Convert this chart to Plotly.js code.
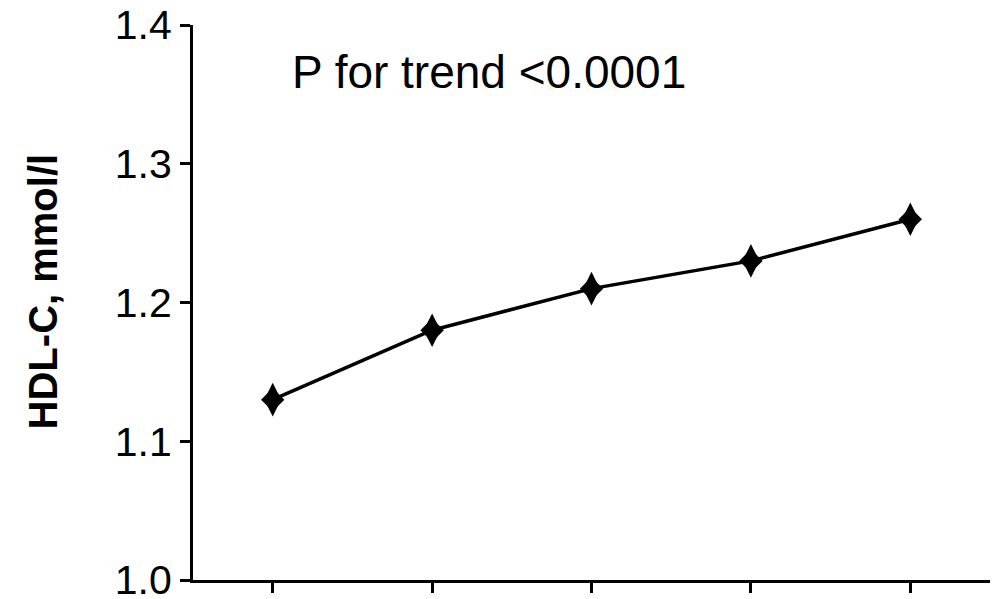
<!DOCTYPE html>
<html>
<head>
<meta charset="utf-8">
<script src="https://cdn.plot.ly/plotly-3.0.1.min.js"></script>
<style>
  html, body { margin: 0; padding: 0; background: #ffffff; }
  #chart { width: 998px; height: 599px; }
</style>
</head>
<body>
<div id="chart"></div>
<script>
// HDL cholesterol across five ordered groups
const groups = ["Q1", "Q2", "Q3", "Q4", "Q5"];
const hdlValues = [1.13, 1.18, 1.21, 1.23, 1.26];
const yTickValues = [1.0, 1.1, 1.2, 1.3, 1.4];
const yTickLabels = ["1.0", "1.1", "1.2", "1.3", "1.4"];
const trendNote = "P for trend <0.0001";
const yTitle = "HDL-C, mmol/l";

const lineTrace = {
  x: groups,
  y: hdlValues,
  type: "scatter",
  mode: "lines+markers",
  line: { color: "#000000", width: 3.5 },
  marker: { symbol: "diamond-tall", size: 24, color: "#000000" },
  hoverinfo: "skip",
  showlegend: false
};

// a second, squat diamond gives the markers their rounded shoulders
const markerBody = {
  x: groups,
  y: hdlValues,
  type: "scatter",
  mode: "markers",
  marker: { symbol: "diamond", size: 18, color: "#000000" },
  hoverinfo: "skip",
  showlegend: false
};

const layout = {
  width: 998,
  height: 599,
  margin: { l: 193, r: 8, t: 25, b: 19 },
  paper_bgcolor: "#ffffff",
  plot_bgcolor: "#ffffff",
  font: { family: "Arial, 'Liberation Sans', sans-serif", color: "#000000" },
  showlegend: false,
  xaxis: {
    type: "category",
    range: [-0.5, 4.5],
    showgrid: false,
    zeroline: false,
    showline: true,
    linecolor: "#000000",
    linewidth: 3,
    ticks: "outside",
    ticklen: 10,
    tickwidth: 3,
    tickcolor: "#000000",
    showticklabels: false,
    fixedrange: true
  },
  yaxis: {
    range: [1.0, 1.4],
    tickvals: yTickValues,
    ticktext: yTickLabels,
    ticklabeloverflow: "allow",
    showgrid: false,
    zeroline: false,
    showline: true,
    linecolor: "#000000",
    linewidth: 3,
    ticks: "outside",
    ticklen: 10,
    tickwidth: 3,
    tickcolor: "#000000",
    tickfont: { size: 41, color: "#000000" },
    fixedrange: true
  },
  annotations: [
    {
      text: trendNote,
      xref: "paper",
      yref: "paper",
      x: 0.122,
      y: 0.915,
      xanchor: "left",
      yanchor: "middle",
      showarrow: false,
      font: { size: 46, color: "#000000" }
    },
    {
      // vertical axis caption, set a little above the plot's midline
      text: "<b>" + yTitle + "</b>",
      xref: "paper",
      yref: "paper",
      x: 0,
      xshift: -150,
      y: 0.52,
      xanchor: "center",
      yanchor: "middle",
      textangle: -90,
      showarrow: false,
      font: { size: 40, color: "#000000" }
    }
  ]
};

Plotly.newPlot("chart", [lineTrace, markerBody], layout, { displayModeBar: false, staticPlot: true });
</script>
</body>
</html>
